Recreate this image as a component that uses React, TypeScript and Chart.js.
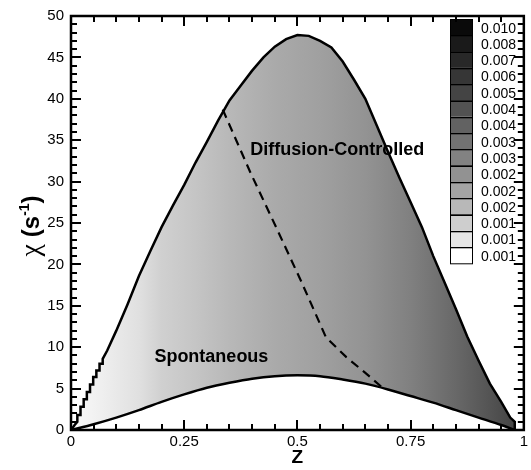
import React, { useEffect, useRef } from "react";
import { Chart, registerables } from "chart.js";
Chart.register(...registerables);

// Upper boundary of the flamelet region (chi_max vs Z), staircase at small Z
const upperZ = [0, 0.008, 0.014, 0.014, 0.021, 0.021, 0.028, 0.028, 0.035, 0.035, 0.042, 0.042, 0.049, 0.049, 0.056, 0.056, 0.063, 0.063, 0.07, 0.07, 0.08, 0.1, 0.125, 0.15, 0.175, 0.2, 0.225, 0.25, 0.275, 0.3, 0.325, 0.35, 0.375, 0.4, 0.425, 0.45, 0.475, 0.5, 0.525, 0.55, 0.575, 0.6, 0.625, 0.65, 0.675, 0.7, 0.725, 0.75, 0.775, 0.8, 0.825, 0.85, 0.875, 0.9, 0.925, 0.95, 0.97, 0.98, 0.98];
const upperChi = [0, 0.6, 1.0, 1.8, 1.8, 2.8, 2.8, 3.7, 3.7, 4.6, 4.6, 5.5, 5.5, 6.4, 6.4, 7.2, 7.2, 8.0, 8.0, 8.6, 9.6, 12, 15.2, 18.6, 21.6, 24.5, 27.1, 29.6, 32.3, 34.8, 37.4, 39.8, 41.6, 43.4, 45.0, 46.3, 47.2, 47.7, 47.6, 47, 46.2, 44.5, 42.3, 40, 36.8, 33.6, 30.5, 27.5, 24.5, 21, 17.8, 14.6, 11.3, 8.4, 5.6, 3.4, 1.5, 1, 0];

// Lower boundary (chi_min vs Z)
const lowerZ = [0, 0.05, 0.1, 0.15, 0.2, 0.25, 0.3, 0.35, 0.4, 0.45, 0.5, 0.55, 0.6, 0.65, 0.7, 0.75, 0.8, 0.85, 0.9, 0.95, 0.98];
const lowerChi = [0, 0.7, 1.5, 2.4, 3.4, 4.3, 5.1, 5.7, 6.2, 6.5, 6.6, 6.5, 6.1, 5.6, 4.9, 4.1, 3.3, 2.4, 1.5, 0.6, 0];

// Dashed separation line between regimes
const dashZ = [0.335, 0.397, 0.452, 0.508, 0.563, 0.608, 0.65, 0.69];
const dashChi = [38.7, 31, 24.6, 18, 11.2, 8.8, 6.9, 5.0];

// Field shading (gray level vs Z)
const fieldZ = [0, 0.05, 0.15, 0.2, 0.28, 0.35, 0.45, 0.55, 0.65, 0.75, 0.85, 0.92, 0.98];
const fieldGray = [250, 242, 224, 208, 196, 184, 170, 160, 147, 128, 104, 85, 68];

// Axis ticks
const xTickLabels = ["0", "0.25", "0.5", "0.75", "1"];
const yTickValues = [0, 5, 10, 15, 20, 25, 30, 35, 40, 45, 50];

// Colour bar
const levelLabels = ["0.010", "0.008", "0.007", "0.006", "0.005", "0.004", "0.004", "0.003", "0.003", "0.002", "0.002", "0.002", "0.001", "0.001", "0.001"];
const levelGrays = [10, 26, 40, 54, 68, 82, 98, 114, 130, 146, 164, 184, 206, 230, 255];

// Region labels
const regionLabels = [
  { text: "Spontaneous", z: 0.31, chi: 8.85 },
  { text: "Diffusion-Controlled", z: 0.588, chi: 33.8 },
];

const FONT = "'Liberation Sans', Arial, sans-serif";
const gray = (g: number) => `rgb(${g},${g},${g})`;

const decorPlugin = {
  id: "decor",
  afterDatasetsDraw(chart: any) {
    const { ctx, chartArea: a, scales } = chart;
    const xs = scales.x;
    const ys = scales.y;
    ctx.save();
    // region labels
    ctx.fillStyle = "#000";
    ctx.font = `bold 18px ${FONT}`;
    ctx.textAlign = "center";
    ctx.textBaseline = "middle";
    regionLabels.forEach((r) => {
      ctx.fillText(r.text, xs.getPixelForValue(r.z), ys.getPixelForValue(r.chi));
    });

    // colour bar
    const bx = 450, bw = 22, by = 19, bh = 16.3;
    levelGrays.forEach((g, i) => {
      ctx.fillStyle = gray(g);
      ctx.fillRect(bx, by + i * bh, bw, bh);
    });
    ctx.strokeStyle = "#000";
    ctx.lineWidth = 1;
    levelGrays.forEach((g, i) => {
      ctx.strokeRect(bx + 0.5, Math.round(by + i * bh) + 0.5, bw, bh);
    });
    ctx.font = `14px ${FONT}`;
    ctx.textAlign = "left";
    ctx.fillStyle = "#000";
    levelLabels.forEach((t, i) => {
      ctx.fillText(t, bx + bw + 9, by + i * bh + bh / 2 + 1.5);
    });

    // frame
    ctx.strokeStyle = "#000";
    ctx.lineWidth = 2.5;
    ctx.strokeRect(a.left, a.top, a.right - a.left, a.bottom - a.top);
    // ticks
    ctx.lineWidth = 2;
    ctx.beginPath();
    for (let i = 0; i <= 20; i++) {
      const v = i * 0.05;
      const px = Math.round(xs.getPixelForValue(v));
      const len = i % 5 === 0 ? 10 : 6;
      ctx.moveTo(px, a.bottom); ctx.lineTo(px, a.bottom - len);
      ctx.moveTo(px, a.top); ctx.lineTo(px, a.top + len);
    }
    for (let i = 0; i <= 50; i++) {
      const py = Math.round(ys.getPixelForValue(i));
      const len = i % 5 === 0 ? 10 : 6;
      ctx.moveTo(a.left, py); ctx.lineTo(a.left + len, py);
      ctx.moveTo(a.right, py); ctx.lineTo(a.right - len, py);
    }
    ctx.stroke();

    // axis titles
    ctx.fillStyle = "#000";
    ctx.font = `bold 19px ${FONT}`;
    ctx.textAlign = "center";
    ctx.textBaseline = "middle";
    ctx.fillText("Z", xs.getPixelForValue(0.5), 458);

    ctx.translate(31, 226);
    ctx.rotate(-Math.PI / 2);
    const parts = [
      { t: "χ ", f: `28px 'Liberation Serif', serif`, dy: 0 },
      { t: "(s", f: `bold 24px ${FONT}`, dy: 0 },
      { t: "-1", f: `bold 14px ${FONT}`, dy: -10 },
      { t: ")", f: `bold 24px ${FONT}`, dy: 0 },
    ];
    let total = 0;
    parts.forEach((p) => { ctx.font = p.f; total += ctx.measureText(p.t).width; });
    let x = -total / 2;
    ctx.textAlign = "left";
    ctx.textBaseline = "alphabetic";
    parts.forEach((p) => {
      ctx.font = p.f;
      ctx.fillText(p.t, x, 8 + p.dy);
      x += ctx.measureText(p.t).width;
    });
    ctx.restore();
  },
};

export default function App() {
  const ref = useRef<HTMLCanvasElement | null>(null);
  useEffect(() => {
    if (!ref.current) return;
    const chart = new Chart(ref.current, {
      type: "line",
      data: {
        datasets: [
          {
            data: dashZ.map((z, i) => ({ x: z, y: dashChi[i] })),
            borderColor: "#000",
            borderWidth: 2.2,
            borderDash: [9, 6],
            pointRadius: 0,
            fill: false,
          },
          {
            data: lowerZ.map((z, i) => ({ x: z, y: lowerChi[i] })),
            borderColor: "#000",
            borderWidth: 2.5,
            pointRadius: 0,
            fill: false,
            tension: 0.3,
          },
          {
            data: upperZ.map((z, i) => ({ x: z, y: upperChi[i] })),
            borderColor: "#000",
            borderWidth: 2.5,
            pointRadius: 0,
            fill: "-1",
            backgroundColor: (c: any) => {
              const ch = c.chart;
              if (!ch.chartArea) return "#aaa";
              const xs = ch.scales.x;
              const x0 = xs.getPixelForValue(0);
              const x1 = xs.getPixelForValue(1);
              const g = ch.ctx.createLinearGradient(x0, 0, x1, 0);
              fieldZ.forEach((z, i) => g.addColorStop(z, gray(fieldGray[i])));
              g.addColorStop(1, gray(fieldGray[fieldGray.length - 1]));
              return g;
            },
          },
        ],
      },
      options: {
        animation: false,
        responsive: false,
        layout: { padding: { top: 13, right: 1, left: 0, bottom: 0 } },
        plugins: { legend: { display: false }, tooltip: { enabled: false } },
        scales: {
          x: {
            type: "linear",
            min: 0,
            max: 1,
            grid: { display: false, drawTicks: false },
            border: { display: false },
            ticks: {
              stepSize: 0.25,
              padding: 3,
              color: "#000",
              font: { family: FONT, size: 15 },
              maxRotation: 0,
              callback: (v: any) => xTickLabels[Math.round(Number(v) * 4)] ?? "",
            },
            afterFit: (s: any) => { s.height = 40; },
          },
          y: {
            type: "linear",
            min: 0,
            max: 50,
            grid: { display: false, drawTicks: false },
            border: { display: false },
            ticks: {
              stepSize: 5,
              padding: 7,
              color: "#000",
              font: { family: FONT, size: 15 },
              callback: (v: any) => (yTickValues.includes(Number(v)) ? String(v) : ""),
            },
            afterFit: (s: any) => { s.width = 71; },
          },
        },
      },
      plugins: [decorPlugin],
    });
    return () => chart.destroy();
  }, []);
  return (
    <div style={{ position: "fixed", left: 0, top: 0, width: 531, height: 470, background: "#fff" }}>
      <canvas ref={ref} width={531} height={470} />
    </div>
  );
}
